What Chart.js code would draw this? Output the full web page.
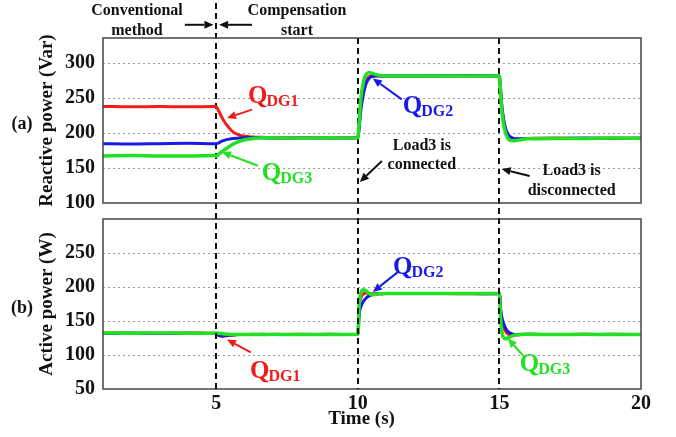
<!DOCTYPE html>
<html>
<head>
<meta charset="utf-8">
<script src="https://cdn.jsdelivr.net/npm/chart.js@4"></script>
<style>
  body { margin: 0; background: #fff; }
  #wrap { position: relative; width: 676px; height: 437px; }
  canvas { position: absolute; left: 0; top: 0; }
</style>
</head>
<body>
<div id="wrap">
  <canvas id="bottomChart" width="676" height="437"></canvas>
  <canvas id="topChart" width="676" height="437"></canvas>
</div>
<script>
// time axis (s), shared by both panels
const time = [1, 2, 3, 4, 4.95, 5, 5.1, 5.2, 5.3, 5.45, 5.6, 5.8, 6, 6.3, 6.6, 7, 8, 9, 9.95, 10,
  10.05, 10.1, 10.2, 10.3, 10.4, 10.5, 10.65, 10.8, 11, 12, 13, 14, 14.95, 15,
  15.05, 15.1, 15.2, 15.3, 15.45, 15.6, 15.8, 16, 17, 18, 19, 20];

// (a) reactive power (Var)
const qDG1 = [237.5, 237, 237.5, 237, 237.5, 237, 230, 222, 215, 207,
  201, 197, 195, 194, 193.5, 193, 192.5, 193, 192.5, 193,
  212, 236, 262, 275, 280, 281.5, 281.5, 281, 281, 281,
  281.5, 281, 281, 280, 254, 230, 207, 197, 192, 191,
  191.5, 192, 192.5, 192, 192.5, 192];
const qDG2 = [184.5, 184, 184.5, 185, 184.5, 184.5, 186, 188, 189.5, 191,
  192, 192.5, 193, 193, 193, 192.5, 193, 192.5, 193, 192.5,
  208, 230, 256, 271, 277.5, 280, 281, 281, 281, 281,
  281, 281.5, 281, 280.5, 256, 233, 209, 198, 193, 191.5,
  191.5, 192, 192, 192.5, 192, 192.5];
const qDG3 = [167, 167.5, 167, 167, 167.5, 167, 170, 173, 176, 180,
  184, 187.5, 190, 192, 193, 193, 192.5, 193, 192.5, 193,
  216, 246, 273, 283.5, 286, 285, 283, 281.5, 281, 281,
  281, 281, 281, 281, 250, 225, 202, 192, 188.5, 189,
  190.5, 191.5, 192, 192, 192.5, 192];

// (b) active power (W)
const pDG1 = [132, 132.5, 132, 132.5, 132, 132, 128, 127.5, 128, 129,
  129.5, 130, 130, 130.5, 130, 130, 130.5, 130, 130, 130,
  172, 183, 190, 191, 190.5, 190, 190.5, 190.5, 190.5, 190.5,
  190.5, 190, 190.5, 190.5, 160, 146, 136, 131, 129.5, 129.5,
  130, 130.5, 130, 130.5, 130, 130];
const pDG2 = [131.5, 132, 131.5, 132, 131.5, 131.5, 128.5, 128, 128.5, 129,
  129.5, 130, 130, 130, 130.5, 130, 130, 130.5, 130, 130,
  160, 170, 179, 184, 187, 188.5, 189.5, 190, 190.5, 190.5,
  190.5, 190.5, 190, 190.5, 166, 153, 141, 134.5, 131, 130,
  130, 130.5, 130, 130, 130.5, 130];
const pDG3 = [132.5, 132, 132.5, 132, 132, 132.5, 132, 131.5, 131, 130.5,
  130, 130, 130, 130, 130, 130.5, 130, 130, 130.5, 130,
  176, 190, 196, 194, 190.5, 188.5, 189.5, 190, 190.5, 190.5,
  190.5, 190.5, 190.5, 190, 148, 131, 124, 125, 128, 130,
  130.5, 130.5, 130, 130.5, 130, 130];

const xTicks = [5, 10, 15, 20];
const yTicksA = [100, 150, 200, 250, 300];
const yTicksB = [50, 100, 150, 200, 250];
const eventTimes = [5, 10, 15];

const RED = '#f01c1c', BLUE = '#1a1ae6', GREEN = '#22e022';
const SERIF = "'Liberation Serif', 'Times New Roman', serif";

function series(vals, color, order, width) {
  return {
    data: time.map((t, i) => ({ x: t, y: vals[i] })),
    borderColor: color, borderWidth: width, pointRadius: 0,
    cubicInterpolationMode: 'monotone', order: order
  };
}

function arrow(ctx, x1, y1, x2, y2, color) {
  const a = Math.atan2(y2 - y1, x2 - x1), h = 9, w = 4;
  const bx = x2 - h * Math.cos(a), by = y2 - h * Math.sin(a);
  ctx.save();
  ctx.strokeStyle = color; ctx.fillStyle = color; ctx.lineWidth = 2;
  ctx.beginPath(); ctx.moveTo(x1, y1); ctx.lineTo(bx, by); ctx.stroke();
  ctx.beginPath(); ctx.moveTo(x2, y2);
  ctx.lineTo(bx + w * Math.sin(a), by - w * Math.cos(a));
  ctx.lineTo(bx - w * Math.sin(a), by + w * Math.cos(a));
  ctx.closePath(); ctx.fill();
  ctx.restore();
}

function qLabel(ctx, x, y, sub, color) {
  ctx.save();
  ctx.fillStyle = color;
  ctx.textBaseline = 'alphabetic'; ctx.textAlign = 'left';
  ctx.font = 'bold 25px ' + SERIF;
  ctx.fillText('Q', x, y + 8);
  const w = ctx.measureText('Q').width;
  ctx.font = 'bold 16px ' + SERIF;
  ctx.fillText(sub, x + w - 1, y + 11);
  ctx.restore();
}

function text(ctx, str, x, y, size) {
  ctx.save();
  ctx.fillStyle = '#111';
  ctx.font = 'bold ' + size + 'px ' + SERIF;
  ctx.textAlign = 'center'; ctx.textBaseline = 'middle';
  ctx.fillText(str, x, y);
  ctx.restore();
}

// annotations in data units (t, value)
const notesA = [
  { t: 6.12, v: 254, sub: 'DG1', color: RED, from: [6.26, 233], to: [5.38, 221] },
  { t: 6.61, v: 144, sub: 'DG3', color: GREEN, from: [6.47, 153], to: [5.2, 172.5] },
  { t: 11.59, v: 240, sub: 'DG2', color: BLUE, from: [11.55, 247.6], to: [10.53, 277.3] }
];
const notesB = [
  { t: 6.19, v: 77.6, sub: 'DG1', color: RED, from: [6.22, 103.8], to: [5.38, 122.7] },
  { t: 11.24, v: 230.6, sub: 'DG2', color: BLUE, from: [11.41, 221.9], to: [10.53, 192.7] },
  { t: 15.72, v: 87.8, sub: 'DG3', color: GREEN, from: [15.83, 99.4], to: [15.3, 124.2] }
];

function drawNotes(chart, notes) {
  const ctx = chart.ctx, xs = chart.scales.x, ys = chart.scales.y;
  notes.forEach(n => {
    qLabel(ctx, xs.getPixelForValue(n.t), ys.getPixelForValue(n.v), n.sub, n.color);
    arrow(ctx, xs.getPixelForValue(n.from[0]), ys.getPixelForValue(n.from[1]),
      xs.getPixelForValue(n.to[0]), ys.getPixelForValue(n.to[1]), n.color);
  });
}

function drawBox(chart) {
  const { left, top, right, bottom } = chart.chartArea;
  const ctx = chart.ctx;
  ctx.save();
  ctx.strokeStyle = '#444'; ctx.lineWidth = 1.5;
  ctx.strokeRect(left, top, right - left, bottom - top);
  ctx.restore();
}

function dottedGrid(chart, ticks) {
  const g = chart.scales.y, ctx = chart.ctx, a = chart.chartArea;
  ctx.save();
  ctx.strokeStyle = '#9a9a9a'; ctx.lineWidth = 1; ctx.setLineDash([2, 3]);
  ticks.slice(1).forEach(v => {
    const y = Math.round(g.getPixelForValue(v)) + 0.5;
    ctx.beginPath(); ctx.moveTo(a.left, y); ctx.lineTo(a.right, y); ctx.stroke();
  });
  ctx.restore();
}

function yScale(min, max, ticks, title) {
  return {
    min: min, max: max,
    afterBuildTicks: s => { s.ticks = ticks.map(v => ({ value: v })); },
    afterFit: s => { s.width = 103; },
    border: { display: false },
    grid: { display: false, drawTicks: false },
    ticks: { padding: 8, color: '#111', font: { family: SERIF, size: 20, weight: 'bold' } },
    title: {
      display: true, text: title, color: '#111',
      padding: { top: 36, bottom: 0 },
      font: { family: SERIF, size: 19, weight: 'bold' }
    }
  };
}

const baseOpts = {
  responsive: false, animation: false, devicePixelRatio: 1,
  plugins: { legend: { display: false }, tooltip: { enabled: false } }
};

const topChart = new Chart(document.getElementById('topChart'), {
  type: 'line',
  data: { datasets: [series(qDG1, RED, 2, 3), series(qDG2, BLUE, 1, 3), series(qDG3, GREEN, 0, 3.5)] },
  options: Object.assign({}, baseOpts, {
    layout: { padding: { top: 38, right: 35, bottom: 234, left: 0 } },
    scales: {
      x: { type: 'linear', min: 1, max: 20, display: false },
      y: yScale(100, 335, yTicksA, 'Reactive power (Var)')
    }
  }),
  plugins: [{
    id: 'decorA',
    beforeDatasetsDraw(chart) { dottedGrid(chart, yTicksA); },
    afterDraw(chart) {
      const ctx = chart.ctx, xs = chart.scales.x, ys = chart.scales.y, a = chart.chartArea;
      drawBox(chart);
      drawNotes(chart, notesA);
      const X = t => xs.getPixelForValue(t), Y = v => ys.getPixelForValue(v);
      text(ctx, 'Conventional', X(2.2), Y(373), 16);
      text(ctx, 'method', X(2.2), Y(345), 16);
      text(ctx, 'Compensation', X(7.85), Y(373), 16);
      text(ctx, 'start', X(7.85), Y(345), 16);
      arrow(ctx, X(3.89), Y(353.8), X(4.9), Y(353.8), '#111');
      arrow(ctx, X(6.26), Y(353.8), X(5.1), Y(353.8), '#111');
      text(ctx, 'Load3 is', X(12.26), Y(181), 16);
      text(ctx, 'connected', X(12.26), Y(154), 16);
      arrow(ctx, X(10.85), Y(159.8), X(10.07), Y(130), '#111');
      text(ctx, 'Load3 is', X(17.55), Y(145.6), 16);
      text(ctx, 'disconnected', X(17.55), Y(117.3), 16);
      arrow(ctx, X(16.07), Y(138.5), X(15.08), Y(148.4), '#111');
      text(ctx, '(a)', 22, (a.top + a.bottom) / 2 + 4, 18);
    }
  }]
});

new Chart(document.getElementById('bottomChart'), {
  type: 'line',
  data: { datasets: [series(pDG1, RED, 2, 3), series(pDG2, BLUE, 1, 3), series(pDG3, GREEN, 0, 3.5)] },
  options: Object.assign({}, baseOpts, {
    layout: { padding: { top: 219, right: 35, bottom: 0, left: 0 } },
    scales: {
      x: {
        type: 'linear', min: 1, max: 20,
        afterBuildTicks: s => { s.ticks = xTicks.map(v => ({ value: v })); },
        afterFit: s => { s.height = 48; },
        border: { display: false },
        grid: { display: false, drawTicks: false },
        ticks: { padding: 3, color: '#111', font: { family: SERIF, size: 20, weight: 'bold' } },
        title: { display: false }
      },
      y: yScale(50, 300, yTicksB, 'Active power (W)')
    }
  }),
  plugins: [{
    id: 'decorB',
    beforeDatasetsDraw(chart) { dottedGrid(chart, yTicksB); },
    afterDraw(chart) {
      const ctx = chart.ctx, xs = chart.scales.x, a = chart.chartArea;
      drawBox(chart);
      // event markers span both panels
      ctx.save();
      ctx.strokeStyle = '#111'; ctx.lineWidth = 2; ctx.setLineDash([6, 4]);
      eventTimes.forEach((t, i) => {
        const x = Math.round(xs.getPixelForValue(t));
        ctx.beginPath();
        ctx.moveTo(x, i === 0 ? 3 : topChart.chartArea.top);
        ctx.lineTo(x, a.bottom);
        ctx.stroke();
      });
      ctx.restore();
      drawNotes(chart, notesB);
      text(ctx, 'Time (s)', xs.getPixelForValue(10.13), a.bottom + 30, 19);
      text(ctx, '(b)', 22, (a.top + a.bottom) / 2 + 4, 18);
    }
  }]
});
</script>
</body>
</html>
